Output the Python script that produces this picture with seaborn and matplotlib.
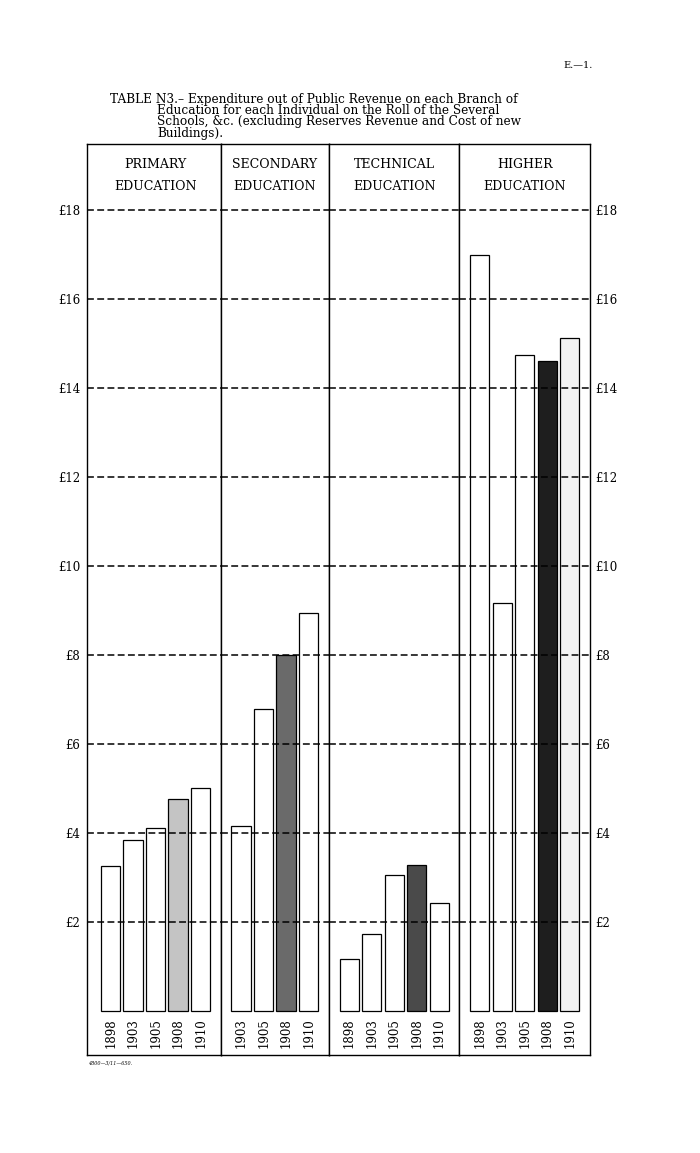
import matplotlib
matplotlib.use("Agg")
import matplotlib.pyplot as plt
import seaborn as sns

# values (pounds per individual)
branches = ["PRIMARY\nEDUCATION", "SECONDARY\nEDUCATION", "TECHNICAL\nEDUCATION", "HIGHER\nEDUCATION"]
primary_years = ["1898", "1903", "1905", "1908", "1910"]
primary_vals = [3.26, 3.85, 4.12, 4.76, 5.00]
secondary_years = ["1903", "1905", "1908", "1910"]
secondary_vals = [4.15, 6.79, 8.00, 8.94]
technical_years = ["1898", "1903", "1905", "1908", "1910"]
technical_vals = [1.16, 1.72, 3.06, 3.27, 2.43]
higher_years = ["1898", "1903", "1905", "1908", "1910"]
higher_vals = [16.99, 9.17, 14.74, 14.61, 15.12]

# stippled 1908 bars
fills = [
    ["white", "white", "white", "#c4c4c4", "white"],
    ["white", "white", "#6a6a6a", "white"],
    ["white", "white", "white", "#4a4a4a", "white"],
    ["white", "white", "white", "#1e1e1e", "#f3f3f3"],
]

grid_levels = [2, 4, 6, 8, 10, 12, 14, 16, 18]
grid_labels = [f"£{v}" for v in grid_levels]

title_lines = [
    "TABLE N3.– Expenditure out of Public Revenue on each Branch of",
    "Education for each Individual on the Roll of the Several",
    "Schools, &c. (excluding Reserves Revenue and Cost of new",
    "Buildings).",
]

sns.set_theme(style="white")
plt.rcParams["font.family"] = ["DejaVu Serif"]
plt.rcParams["text.color"] = "black"
plt.rcParams["ytick.color"] = "black"

W, H = 700, 1153
fig = plt.figure(figsize=(W / 100, H / 100), dpi=100)

panels = [
    (primary_years, primary_vals),
    (secondary_years, secondary_vals),
    (technical_years, technical_vals),
    (higher_years, higher_vals),
]
margin = 0.9
ratios = [len(y) - 1 + 2 * margin for y, _ in panels]
ratios[0] += 0.15
gs = fig.add_gridspec(
    1, 4, width_ratios=ratios, wspace=0,
    left=87 / W, right=590 / W, top=1 - 144 / H, bottom=1 - 1055 / H,
)

for i, ((years, vals), name) in enumerate(zip(panels, branches)):
    ax = fig.add_subplot(gs[0, i])
    sns.barplot(
        x=years, y=vals, hue=years, palette=fills[i], legend=False,
        width=0.86, edgecolor="black", linewidth=0.9, saturation=1, ax=ax,
    )
    n = len(years)
    left = -margin - (0.15 if i == 0 else 0)
    ax.set_xlim(left, n - 1 + margin)
    ax.set_ylim(-0.99, 19.48)
    for v in grid_levels:
        ax.axhline(v, color="black", lw=1.1, ls=(0, (4.5, 2.2)), zorder=5)
    for j, yr in enumerate(years):
        ax.text(j, -0.5, yr, rotation=90, ha="center", va="center",
                fontsize=8.5, color="black")
    head1, head2 = name.split("\n")
    ax.text((n - 1) / 2, 19.02, head1, ha="center", va="center", fontsize=9)
    ax.text((n - 1) / 2, 18.52, head2, ha="center", va="center", fontsize=9)
    ax.set_xlabel("")
    ax.set_ylabel("")
    ax.set_xticks([])
    for sp in ax.spines.values():
        sp.set_visible(True)
        sp.set_color("black")
        sp.set_linewidth(1.0)
    ax.set_yticks(grid_levels)
    if i == 0:
        ax.set_yticklabels(grid_labels, fontsize=8.5)
        ax.tick_params(axis="y", length=0, pad=5, left=False, labelleft=True)
    elif i == 3:
        ax.set_yticklabels(grid_labels, fontsize=8.5)
        ax.tick_params(axis="y", length=0, pad=4, left=False, right=False,
                       labelleft=False, labelright=True)
    else:
        ax.tick_params(axis="y", length=0, labelleft=False)

fig.text(110 / W, 1 - 100 / H, title_lines[0], fontsize=8.7, va="center", ha="left")
for k, line in enumerate(title_lines[1:]):
    fig.text(157 / W, 1 - (111 + 11 * k) / H, line, fontsize=8.7, va="center", ha="left")

fig.text(563 / W, 1 - 66 / H, "E.—1.", fontsize=7, va="center", ha="left")
fig.text(88 / W, 1 - 1063 / H, "4800—3/11—650.", fontsize=3.5, style="italic",
         va="center", ha="left")

fig.savefig("out.png", dpi=100, facecolor="white")
